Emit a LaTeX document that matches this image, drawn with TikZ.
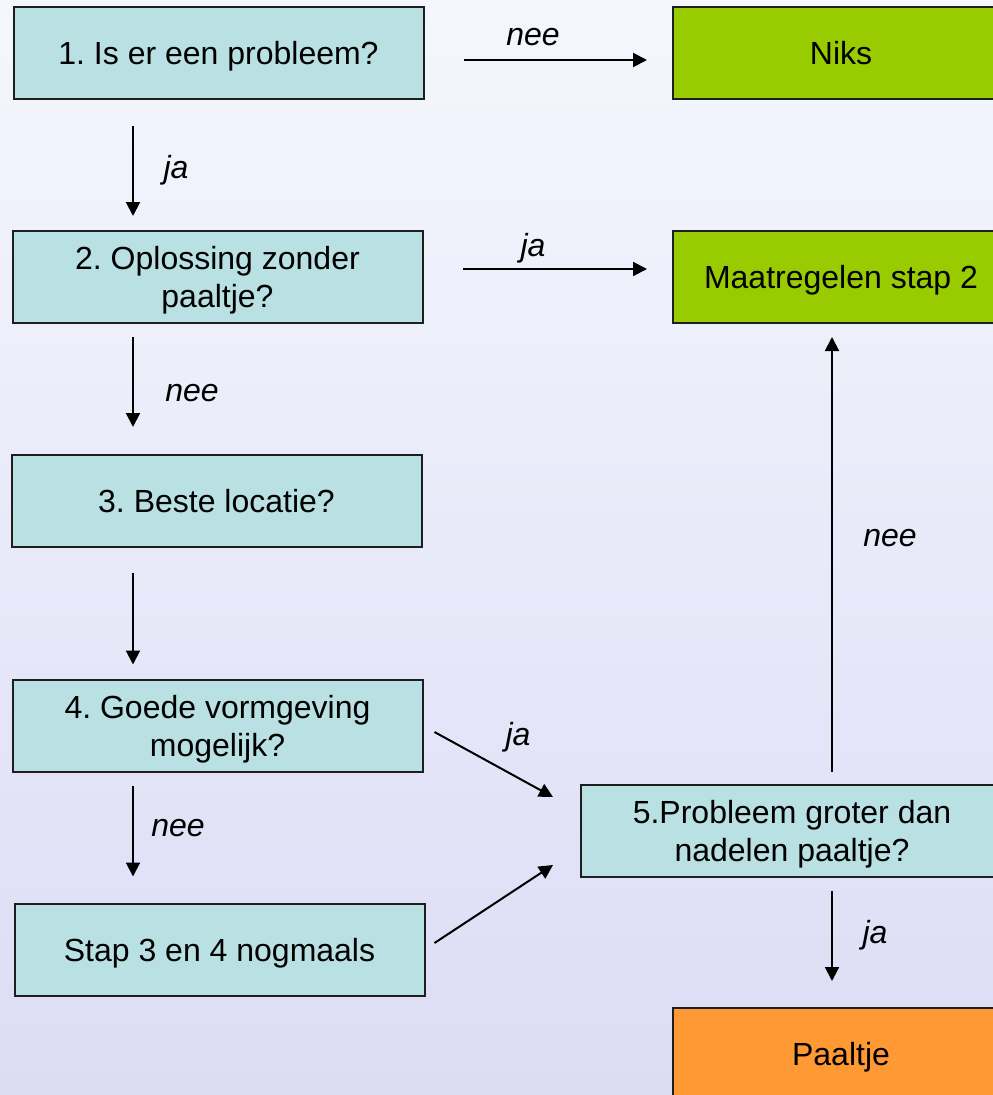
\documentclass[tikz,border=0pt]{standalone}
\usepackage{fontspec}
\setmainfont{Liberation Sans}
\frenchspacing
\usetikzlibrary{arrows.meta,calc}
\definecolor{bgtop}{RGB}{244,247,253}
\definecolor{bgbot}{RGB}{220,220,245}
\definecolor{teal}{RGB}{185,224,227}
\definecolor{lgreen}{RGB}{153,204,0}
\definecolor{orng}{RGB}{255,153,51}
\definecolor{edge}{RGB}{30,30,30}
\begin{document}
\begin{tikzpicture}[x=1pt,y=-1pt,
  txt/.style={font=\fontsize{32}{38}\selectfont},
  box/.style={txt,draw=edge,line width=2pt,rectangle,inner sep=0pt,align=center,minimum height=92pt,text depth=0pt},
  qbox/.style={box,fill=teal,minimum width=410pt},
  gbox/.style={box,fill=lgreen,minimum width=336pt},
  obox/.style={box,fill=orng,minimum width=336pt},
  lab/.style={font=\fontsize{32}{38}\selectfont\itshape,inner sep=0pt},
  arr/.style={line width=2pt,-{Triangle[length=14pt,width=14pt]}}]
\useasboundingbox (0,0) rectangle (993,1095);
\shade[top color=bgtop,bottom color=bgbot] (0,0) rectangle (993,1095);
\coordinate (colx) at (133,0);
\coordinate (colr) at (832,0);
% boxes
\node[qbox] (b1) at (218.5,53) {1. Is er een probleem?};
\node[qbox] (b2) at (217.5,277) {2. Oplossing zonder\\paaltje?};
\node[qbox] (b3) at (216.5,501) {3. Beste locatie?};
\node[qbox] (b4) at (217.5,725.5) {4. Goede vormgeving\\mogelijk?};
\node[qbox] (b6) at (219.5,949.5) {Stap 3 en 4 nogmaals};
\node[gbox] (niks) at (841,53) {Niks};
\node[gbox] (maat) at (841,277) {Maatregelen stap 2};
\node[qbox,minimum width=422pt] (p5) at (792,830.5) {5.Probleem groter dan\\nadelen paaltje?};
\node[obox] (paal) at (841,1054) {Paaltje};
% connectors
\draw[arr] ($(b1.south -| colx)+(0,26)$) -- ($(b2.north -| colx)+(0,-14)$);
\draw[arr] ($(b2.south -| colx)+(0,13)$) -- ($(b3.north -| colx)+(0,-27)$);
\draw[arr] ($(b3.south -| colx)+(0,25)$) -- ($(b4.north -| colx)+(0,-14)$);
\draw[arr] ($(b4.south -| colx)+(0,13)$) -- ($(b6.north -| colx)+(0,-26)$);
\draw[arr] ($(b1.east)+(39,7)$) -- ($(niks.west)+(-25,7)$);
\draw[arr] ($(b2.east)+(39,-8)$) -- ($(maat.west)+(-25,-8)$);
\draw[arr] ($(b4.east)+(11,6.5)$) -- ($(p5.west)+(-27,-33.5)$);
\draw[arr] ($(b6.east)+(9,-6.5)$) -- ($(p5.west)+(-27,34.5)$);
\draw[arr] ($(p5.north -| colr)+(0,-12)$) -- ($(maat.south -| colr)+(0,13)$);
\draw[arr] ($(p5.south -| colr)+(0,13)$) -- ($(paal.north -| colr)+(0,-26)$);
% labels
\node[lab] (l1) at (176,170) {ja};
\node[lab] (l2) at (192,393) {nee};
\node[lab] (l3) at (178,828) {nee};
\node[lab] (l4) at (533,37) {nee};
\node[lab] (l5) at (533,248) {ja};
\node[lab] (l6) at (518,737) {ja};
\node[lab] (l7) at (890,538) {nee};
\node[lab] (l8) at (875,935) {ja};
\end{tikzpicture}
\end{document}
